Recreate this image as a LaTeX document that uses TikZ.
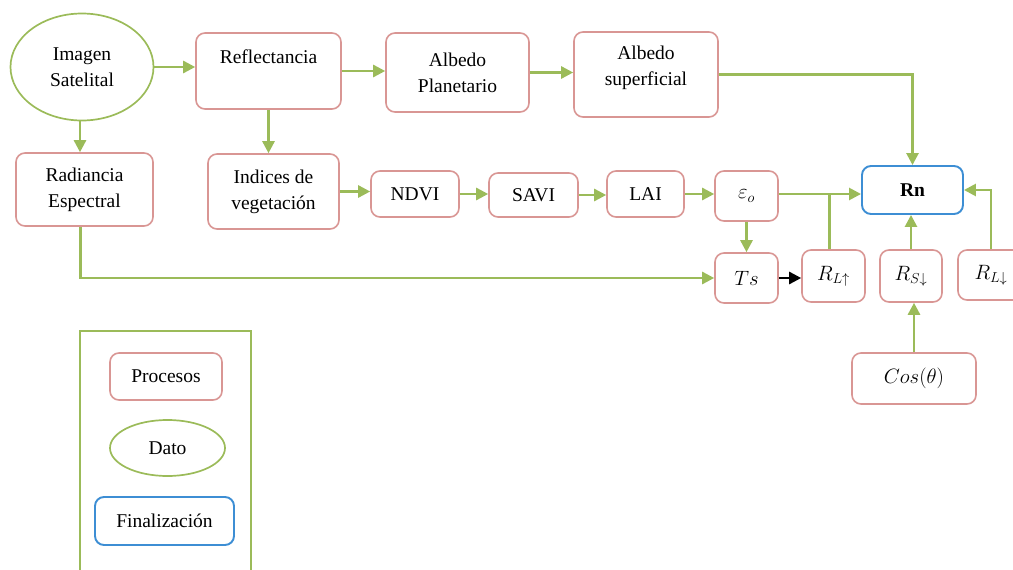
\documentclass[tikz,border=0pt]{standalone}
\usepackage{fontspec}
\setmainfont{Liberation Serif}
\usetikzlibrary{arrows.meta,shapes.geometric}
\definecolor{gr}{HTML}{9BBB59}
\definecolor{pr}{HTML}{D99694}
\definecolor{bl}{HTML}{3D8ED4}
\tikzset{
  base/.style={font=\fontsize{19.5}{26}\selectfont, align=center, inner sep=0pt},
  proc/.style={base, draw=pr, line width=1.6pt, rounded corners=9pt},
  dato/.style={base, draw=gr, line width=1.7pt, ellipse},
  fin/.style={base, draw=bl, line width=1.9pt, rounded corners=9pt},
  arr/.style={draw=gr, line width=2.6pt, -{Triangle[length=12pt,width=12pt]}},
  ln/.style={draw=gr, line width=2.6pt},
  barr/.style={draw=black, line width=2.6pt, -{Triangle[length=12pt,width=12pt]}},
  mth/.style={font=\fontsize{21}{26}\selectfont}
}
\begin{document}
\begin{tikzpicture}[x=1pt,y=-1pt]
\useasboundingbox (0,0) rectangle (1013,570);
% main nodes
\node[dato, minimum width=143pt, minimum height=107pt] (img) at (82,67) {Imagen\\Satelital};
\node[proc, minimum width=145pt, minimum height=76pt] (refl) at (268.5,71) {};
\node[base] (reflt) at ([yshift=14pt]refl.center) {Reflectancia};
\node[proc, minimum width=143pt, minimum height=79pt] (alp) at (457.5,72.5) {Albedo\\Planetario};
\node[proc, minimum width=144pt, minimum height=85pt] (als) at (646,74.5) {};
\node[base] (alst) at ([yshift=6.5pt]als.center) {Albedo\\superficial};
\node[proc, minimum width=137pt, minimum height=73pt] (rad) at (84.5,189.5) {Radiancia\\Espectral};
\node[proc, minimum width=131pt, minimum height=75pt] (ind) at (273.5,191.5) {Indices de\\vegetación};
\node[proc, minimum width=88pt, minimum height=46pt] (ndvi) at (415,194) {NDVI};
\node[proc, minimum width=89pt, minimum height=44pt] (savi) at (533.5,195) {SAVI};
\node[proc, minimum width=77pt, minimum height=46pt] (lai) at (645.5,194) {LAI};
\node[proc, mth, minimum width=63pt, minimum height=50pt] (eps) at (746.5,196) {$\varepsilon_o$};
\node[fin, minimum width=101pt, minimum height=48pt] (rn) at (912.5,190) {\textbf{Rn}};
\node[proc, mth, minimum width=63pt, minimum height=50pt] (ts) at (746.5,278) {$Ts$};
\node[proc, mth, minimum width=63pt, minimum height=52pt] (rlu) at (833.5,276) {$R_{L\uparrow}$};
\node[proc, mth, minimum width=62pt, minimum height=52pt] (rsd) at (911,276) {$R_{S\downarrow}$};
\node[proc, mth, minimum width=66pt, minimum height=50pt] (rld) at (991,275) {$R_{L\downarrow}$};
\node[proc, mth, minimum width=124pt, minimum height=51pt] (cos) at (914,378.5) {$Cos(\theta)$};
% legend
\draw[draw=gr, line width=1.7pt] (80,580) -- (80,331) -- (251,331) -- (251,580);
\node[proc, minimum width=112pt, minimum height=47pt] (lp) at (166,376.5) {Procesos};
\node[dato, minimum width=115pt, minimum height=56pt] (ld) at (167.5,448) {Dato};
\node[fin, minimum width=139pt, minimum height=48pt] (lf) at (164.5,521) {Finalización};
% connectors
\draw[arr] (img.east) -- (img.east -| refl.west);
\draw[arr] (refl.east) -- (refl.east -| alp.west);
\draw[arr] (alp.east) -- (alp.east -| als.west);
\draw[arr] (als.east) -| (rn.north);
\draw[arr] ([xshift=-2pt]img.south) -- ([xshift=-2pt]img.south |- rad.north);
\draw[arr] (refl.south) -- (refl.south |- ind.north);
\draw[arr] (ind.east) -- (ind.east -| ndvi.west);
\draw[arr] (ndvi.east) -- (ndvi.east -| savi.west);
\draw[arr] (savi.east) -- (savi.east -| lai.west);
\draw[arr] (lai.east) -- (lai.east -| eps.west);
\draw[arr] ([yshift=2pt]eps.east) -- ([yshift=2pt]eps.east -| rn.west);
\draw[ln] ([xshift=-4pt]rlu.north) -- ([xshift=-4pt,yshift=2pt]rlu.north |- eps.east);
\draw[arr] (eps.south) -- (ts.north);
\draw[arr] ([xshift=-4pt]rad.south) |- (ts.west);
\draw[barr] (ts.east) -- (ts.east -| rlu.west);
\draw[arr] (rsd.north) -- (rsd.north |- rn.south);
\draw[arr] (cos.north) -- (cos.north |- rsd.south);
\draw[arr] (rld.north) |- (rn.east);
\end{tikzpicture}
\end{document}
